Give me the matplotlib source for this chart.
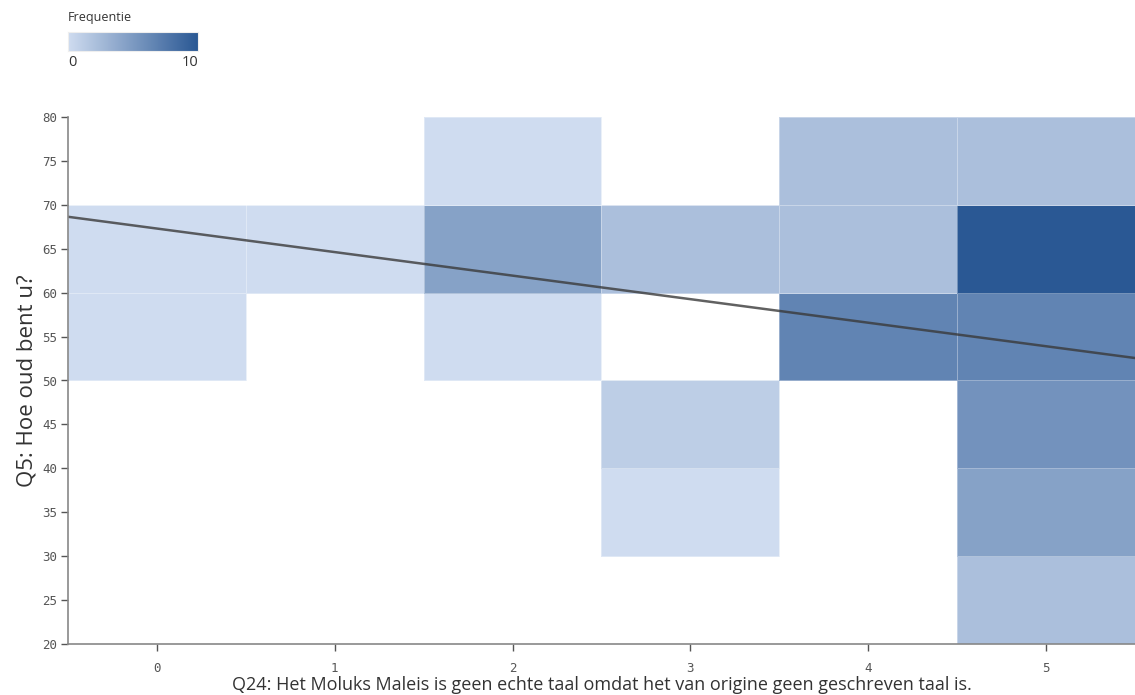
import numpy as np
import matplotlib
matplotlib.use("Agg")
import matplotlib.pyplot as plt
from matplotlib.colors import LinearSegmentedColormap, Normalize

# Answer categories (x) and age bins (y)
x_categories = [0, 1, 2, 3, 4, 5]
age_edges = [20, 30, 40, 50, 60, 70, 80]

# Respondent counts per cell: rows = age bins (20-30 ... 70-80), cols = x categories
counts = np.array([
    [0, 0, 0, 0, 0, 3],   # 20-30
    [0, 0, 0, 1, 0, 5],   # 30-40
    [0, 0, 0, 2, 0, 6],   # 40-50
    [1, 0, 1, 0, 7, 7],   # 50-60
    [1, 1, 5, 3, 3, 10],  # 60-70
    [0, 0, 1, 0, 3, 3],   # 70-80
])

# Linear trend line (age vs answer)
trend_intercept = 67.3
trend_slope = -2.68

x_label = "Q24: Het Moluks Maleis is geen echte taal omdat het van origine geen geschreven taal is."
y_label = "Q5: Hoe oud bent u?"
legend_title = "Frequentie"
legend_min, legend_max = 0, 10

light = (207 / 255, 220 / 255, 240 / 255)
dark = (42 / 255, 88 / 255, 148 / 255)
cmap = LinearSegmentedColormap.from_list("freq", [light, dark])
norm = Normalize(vmin=1, vmax=10)

fig = plt.figure(figsize=(11.35, 6.95), dpi=100)
ax = fig.add_axes([68 / 1135, 51 / 695, 1 - 68 / 1135, (644 - 117) / 695])

x_edges = np.arange(len(x_categories) + 1) - 0.5
masked = np.ma.masked_equal(counts, 0)
ax.pcolormesh(x_edges, age_edges, masked, cmap=cmap, norm=norm,
              edgecolors=(1, 1, 1, 0.35), linewidth=0.6)

xs = np.array([x_edges[0], x_edges[-1]])
ax.plot(xs, trend_intercept + trend_slope * xs, color="#3a3a3a", lw=1.8, alpha=0.8)

ax.set_xlim(x_edges[0], x_edges[-1])
ax.set_ylim(age_edges[0], age_edges[-1])
ax.set_xticks(x_categories)
ax.set_yticks(np.arange(20, 81, 5))

for lbl in ax.get_xticklabels() + ax.get_yticklabels():
    lbl.set_fontfamily("DejaVu Sans Mono")
    lbl.set_fontsize(9)
ax.tick_params(colors="#555555", length=5, width=1, labelcolor="#555555")
ax.tick_params(axis="x", pad=8)
ax.tick_params(axis="y", pad=3)

for side in ("top", "right"):
    ax.spines[side].set_visible(False)
for side in ("left", "bottom"):
    ax.spines[side].set_color("#888888")
    ax.spines[side].set_linewidth(1.2)

ax.set_xlabel(x_label, fontfamily="Open Sans", fontsize=13, color="#333333", labelpad=1)
ax.set_ylabel(y_label, fontfamily="Open Sans", fontsize=16, color="#333333", labelpad=3)

# Colour legend
cax = fig.add_axes([68 / 1135, (695 - 51) / 695, 130 / 1135, 19 / 695])
gradient = np.linspace(0, 1, 256).reshape(1, -1)
cax.imshow(gradient, aspect="auto", cmap=cmap, extent=[0, 1, 0, 1])
cax.set_xticks([])
cax.set_yticks([])
for s in cax.spines.values():
    s.set_color("#eeeeee")
fig.text(68 / 1135, 1 - 18 / 695, legend_title, fontfamily="Open Sans", fontsize=9,
         color="#333333", ha="left", va="center")
fig.text(68 / 1135, 1 - 62 / 695, str(legend_min), fontfamily="Open Sans", fontsize=10.5,
         color="#333333", ha="left", va="center")
fig.text(198 / 1135, 1 - 62 / 695, str(legend_max), fontfamily="Open Sans", fontsize=10.5,
         color="#333333", ha="right", va="center")

fig.savefig("out.png", dpi=100)
